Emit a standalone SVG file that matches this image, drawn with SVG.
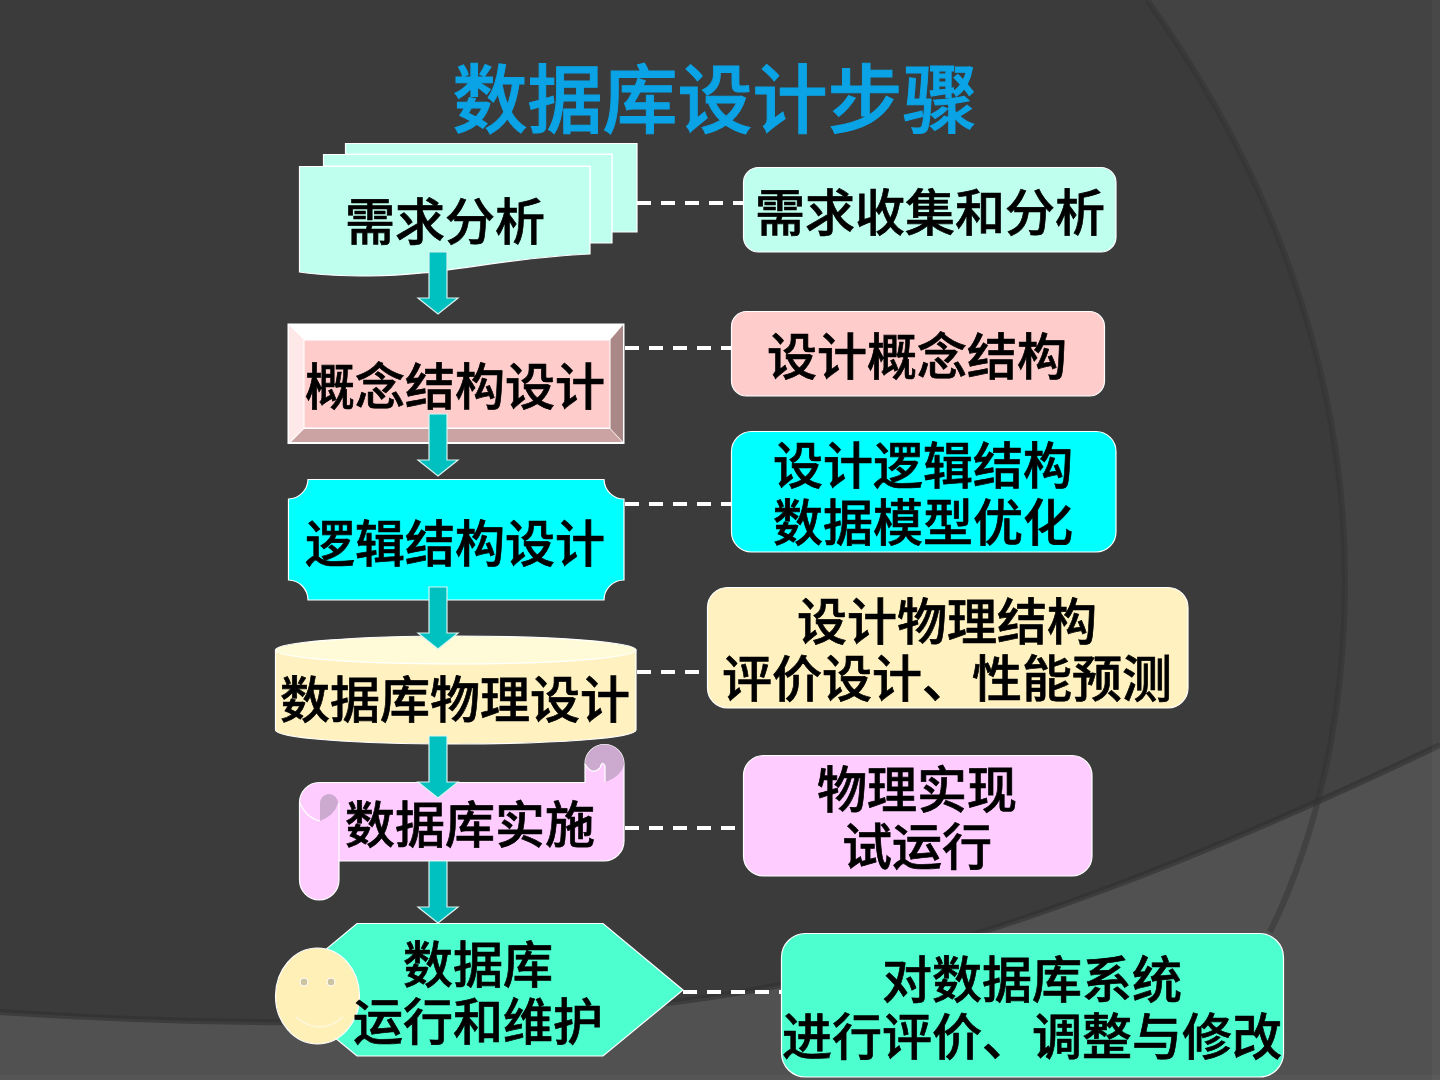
<svg xmlns="http://www.w3.org/2000/svg" width="1440" height="1080" viewBox="0 0 1440 1080">
<style>
text{font-family:"Noto Sans CJK SC","Liberation Sans",sans-serif;fill:#000;stroke:#000;stroke-width:.7;font-size:50px;font-weight:500;text-anchor:middle}
text.title{fill:#0aa3e6;stroke:#0aa3e6;stroke-width:1;font-size:75px;font-weight:500}
.box{stroke:#fff;stroke-width:1.2}
.aqua{fill:#bfffed}.pink{fill:#ffcccc}.cyan{fill:#00ffff}.cream{fill:#fff2c0}.lilac{fill:#ffccff}.mint{fill:#4dffcf}
.dash{stroke:#fff;stroke-width:4;stroke-dasharray:14 10;fill:none}
.arrow{fill:#00c0c0;stroke:#d8f4f0;stroke-width:1.2}
</style>
<defs>
<path id="ar" d="M-9 0H9V46H20L0 62L-20 46H-9Z"/>
</defs>
<g id="background">
<rect width="1440" height="1080" fill="#3b3b3b"/>
<path d="M1147 0C1270 170 1345 370 1345 580C1345 720 1315 840 1270 932L1440 1080V0Z" fill="#434343"/>
<path d="M0 1012C330 1034 620 1018 780 985C1000 940 1220 850 1440 745V1080H0Z" fill="#515151"/>
<path d="M1147 0C1270 170 1345 370 1345 580C1345 720 1315 840 1270 932" fill="none" stroke="#303030" stroke-opacity=".45" stroke-width="6"/>
<path d="M0 1012C330 1034 620 1018 780 985C1000 940 1220 850 1440 745" fill="none" stroke="#303030" stroke-opacity=".6" stroke-width="6"/>
<rect x="1432" width="8" height="1080" fill="#fff" fill-opacity=".03"/>
<rect y="1075" width="1440" height="5" fill="#fff" fill-opacity=".03"/>
</g>
<g id="title"><text class="title" x="715" y="127">数据库设计步骤</text></g>
<g id="connectors-dashed">
<path class="dash" d="M637 203H743"/>
<path class="dash" d="M625 348H731"/>
<path class="dash" d="M625 504H735"/>
<path class="dash" d="M637 672H707"/>
<path class="dash" d="M625 828H743"/>
<path class="dash" d="M683 992H781"/>
</g>
<g id="node-requirements">
<path class="aqua box" d="M345.500 143.500H637V232H612V154H345.500Z"/>
<path class="aqua box" d="M323.500 154.500H612V243H590V166H323.500Z"/>
<path class="aqua box" d="M299.500 166.500H590V254C500 258 440 276 370 276C345 276 320 275 299.500 272Z"/>
<text x="445" y="240">需求分析</text>
</g>
<g id="node-conceptual">
<rect x="287.500" y="323.500" width="337" height="120.500" fill="#fff"/>
<path d="M289 325L304 340V428L289 442Z" fill="#ffe8e8"/>
<path d="M623 325L610 340V428L623 442Z" fill="#aa8888"/>
<path d="M291 442L304 429H610L622 442Z" fill="#cca3a3"/>
<rect class="pink" x="304" y="340" width="306" height="88" stroke="#fff"/>
<text x="455" y="405">概念结构设计</text>
</g>
<g id="node-logical">
<path class="cyan box" d="M308 479.500H604A20 20 0 0 0 624 499V580A20 20 0 0 0 604 600H308A20 20 0 0 0 288.500 580V499A20 20 0 0 0 308 479.500Z"/>
<text x="455" y="562">逻辑结构设计</text>
</g>
<g id="node-physical">
<path class="cream box" d="M275.500 650V730C275.500 738 355 744 455 744S636 738 636 730V650Z"/>
<ellipse cx="455.750" cy="650" rx="180.250" ry="14" fill="#fffbd8" stroke="#fff" stroke-width="1.200"/>
<text x="455" y="718">数据库物理设计</text>
</g>
<g id="node-implementation">
<path class="lilac box" d="M339 861H604A20 20 0 0 0 624 841V764A19.500 19.500 0 0 0 585 764V782.500H319A20 20 0 0 0 299.500 802V880A19.750 20 0 0 0 339 880Z"/>
<path d="M585 764A19.500 19.500 0 0 1 624 764Q622 776 605 782V766Q602 760 600 768Q592 776 585 764Z" fill="#ccaad0"/>
<path d="M585 764Q592 776 600 768Q602 760 605 766V782" fill="none" stroke="#fff" stroke-width="1.200"/>
<path d="M320 821V803A9 9 0 0 1 338 803Q335 815 320 821Z" fill="#ccaad0"/>
<path d="M299.500 802Q306 818 320 821" fill="none" stroke="#fff" stroke-width="1.200"/>
<path d="M339 803V861" fill="none" stroke="#fff" stroke-width="1.200"/>
<text x="470" y="843">数据库实施</text>
</g>
<g id="node-maintenance">
<path class="mint box" d="M683 990L603 923.500H357L277 990L357 1056H603Z"/>
<ellipse cx="317.500" cy="996" rx="42" ry="48" fill="#fff0b8" stroke="#fff" stroke-width="1.200"/>
<circle cx="304" cy="982" r="4" fill="#ccc3a0" stroke="#fff"/>
<circle cx="331" cy="982" r="4" fill="#ccc3a0" stroke="#fff"/>
<path d="M296 1017Q320 1037 343 1017" fill="none" stroke="#fff8e0" stroke-width="1.500"/>
<text x="478" y="983">数据库</text>
<text x="478" y="1040">运行和维护</text>
</g>
<g id="note-1"><rect class="aqua box" x="743.500" y="167.500" width="372.500" height="84.500" rx="15"/><text x="930" y="231">需求收集和分析</text></g>
<g id="note-2"><rect class="pink box" x="731.500" y="311.500" width="373" height="84.500" rx="15"/><text x="917" y="375">设计概念结构</text></g>
<g id="note-3"><rect class="cyan box" x="731.500" y="431.500" width="384.500" height="120.500" rx="20"/><text x="923" y="484">设计逻辑结构</text><text x="923" y="541">数据模型优化</text></g>
<g id="note-4"><rect class="cream box" x="707.500" y="587.500" width="480.500" height="120.500" rx="20"/><text x="947" y="640">设计物理结构</text><text x="947" y="697">评价设计、性能预测</text></g>
<g id="note-5"><rect class="lilac box" x="743.500" y="755.500" width="348.500" height="120.500" rx="20"/><text x="917" y="808">物理实现</text><text x="917" y="865">试运行</text></g>
<g id="note-6"><rect class="mint box" x="781.500" y="933.500" width="502" height="143.500" rx="24"/><text x="1032" y="998">对数据库系统</text><text x="1032" y="1055">进行评价、调整与修改</text></g>
<g id="connectors-flow">
<use class="arrow" href="#ar" x="438" y="252"/>
<use class="arrow" href="#ar" x="438" y="414"/>
<use class="arrow" href="#ar" x="438" y="587"/>
<use class="arrow" href="#ar" x="438" y="736"/>
<use class="arrow" href="#ar" x="438" y="861"/>
</g>
</svg>
